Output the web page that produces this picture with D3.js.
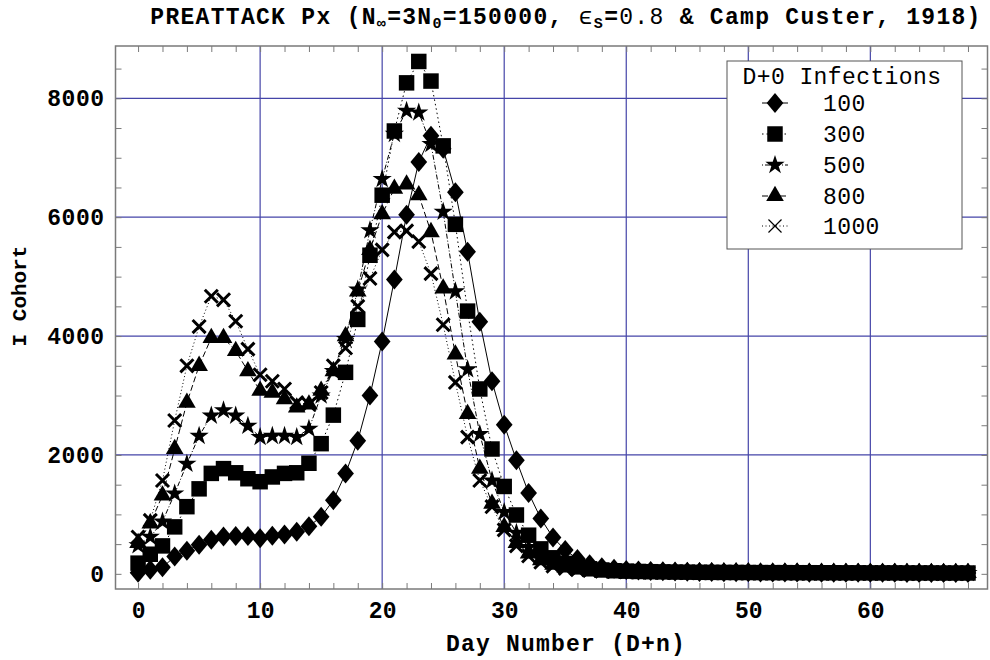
<!DOCTYPE html>
<html><head><meta charset="utf-8">
<script src="https://cdn.jsdelivr.net/npm/d3@7"></script>
<style>body{margin:0;background:#fff}svg{display:block}</style>
</head><body><svg id="c" width="990" height="660"></svg>
<script>
// ---- data ----
const seriesNames = ["100", "300", "500", "800", "1000"];
const xTickLabels = [0, 10, 20, 30, 40, 50, 60];
const yTickLabels = [0, 2000, 4000, 6000, 8000];
const s100 = [20,70,110,290,390,490,575,630,635,635,
  600,640,660,710,800,960,1240,1690,2240,3000,
  3910,4950,6040,6930,7370,7150,6420,5420,4240,3240,
  2510,1910,1360,930,610,400,250,160,110,85,
  65,55,48,42,38,35,32,30,28,26,
  25,24,23,22,21,20,20,19,19,18,
  18,17,17,16,16,16,15,15,15];
const s300 = [180,330,470,790,1130,1430,1690,1770,1700,1600,
  1550,1630,1690,1700,1860,2190,2670,3390,4280,5360,
  6370,7450,8260,8620,8290,7200,5880,4420,3110,2100,
  1470,990,650,420,270,175,120,85,65,52,
  45,40,36,33,30,28,26,25,24,23,
  22,21,20,20,19,19,18,18,17,17,
  16,16,16,15,15,15,14,14,14];
const s500 = [480,620,880,1350,1850,2320,2660,2750,2660,2490,
  2300,2320,2320,2300,2440,3000,3410,3950,4780,5780,
  6640,7400,7790,7760,7230,6090,4750,3440,2350,1570,
  1040,690,450,300,200,135,95,72,58,50,
  44,40,36,33,30,28,26,25,24,23,
  22,21,20,20,19,19,18,18,17,17,
  16,16,16,15,15,15,14,14,14];
const s800 = [520,850,1320,2100,2880,3500,3970,3970,3750,3410,
  3080,3050,2940,2800,2850,3080,3410,4000,4750,5450,
  6050,6480,6550,6370,5750,4800,3690,2690,1770,1180,
  790,520,345,230,155,108,80,63,52,45,
  40,37,34,31,29,27,26,25,24,23,
  22,21,20,20,19,19,18,18,17,17,
  16,16,16,15,15,15,14,14,14];
const s1000 = [620,900,1570,2580,3500,4160,4670,4610,4250,3780,
  3350,3240,3110,2880,2850,3050,3500,3800,4500,4970,
  5450,5750,5770,5590,5050,4190,3220,2300,1570,1130,
  740,470,300,195,130,92,70,56,47,41,
  37,34,31,29,27,26,25,24,23,22,
  21,20,20,19,19,18,18,17,17,16,
  16,16,15,15,15,14,14,14,14];
const seriesValues = [s100, s300, s500, s800, s1000];

// ---- setup ----
const svg = d3.select("#c");
const L = 115.5, R = 987.5, T = 46, B = 589;
const x = d3.scaleLinear().domain([-1.85, 69.6]).range([L, R]);
const y = d3.scaleLinear().domain([-255, 8880]).range([B, T]);
const FONT = "'Liberation Mono', 'DejaVu Sans Mono', monospace";
const gridColor = "#4545a8";
const frameColor = "#7a7a7a";

svg.append("rect").attr("width", 990).attr("height", 660).attr("fill", "#fff");

// grid
const grid = svg.append("g");
grid.selectAll("line.vx").data(xTickLabels.filter(d => d !== 0)).join("line")
  .attr("x1", d => x(d)).attr("x2", d => x(d)).attr("y1", T).attr("y2", B)
  .attr("stroke", gridColor).attr("stroke-width", 1.2);
grid.selectAll("line.hy").data(yTickLabels.filter(d => d !== 0)).join("line")
  .attr("y1", d => y(d)).attr("y2", d => y(d)).attr("x1", L).attr("x2", R)
  .attr("stroke", gridColor).attr("stroke-width", 1.2);

// minor ticks via axes
const xMinor = d3.range(0, 69, 2);
const yMinor = d3.range(0, 8501, 500);
function styleAxis(g) {
  g.select(".domain").remove();
  g.selectAll("line").attr("stroke", frameColor).attr("stroke-width", 1);
}
svg.append("g").attr("transform", `translate(0,${B})`)
  .call(d3.axisBottom(x).tickValues(xMinor).tickSize(-6).tickFormat("")).call(styleAxis);
svg.append("g").attr("transform", `translate(0,${T})`)
  .call(d3.axisTop(x).tickValues(xMinor).tickSize(-6).tickFormat("")).call(styleAxis);
svg.append("g").attr("transform", `translate(${L},0)`)
  .call(d3.axisLeft(y).tickValues(yMinor).tickSize(-6).tickFormat("")).call(styleAxis);
svg.append("g").attr("transform", `translate(${R},0)`)
  .call(d3.axisRight(y).tickValues(yMinor).tickSize(-6).tickFormat("")).call(styleAxis);

// tick labels
const xl = svg.append("g").attr("transform", `translate(0,${B})`)
  .call(d3.axisBottom(x).tickValues(xTickLabels).tickSize(0).tickPadding(13).tickFormat(d3.format("d")));
xl.select(".domain").remove();
xl.selectAll("text").attr("font-family", FONT).attr("font-weight", "bold").attr("font-size", 23).attr("fill", "#000");
const yl = svg.append("g").attr("transform", `translate(${L},0)`)
  .call(d3.axisLeft(y).tickValues(yTickLabels).tickSize(0).tickPadding(11).tickFormat(d3.format("d")));
yl.select(".domain").remove();
yl.selectAll("text").attr("font-family", FONT).attr("font-weight", "bold").attr("font-size", 23)
  .attr("letter-spacing", 0.5).attr("fill", "#000");

// frame
svg.append("rect").attr("x", L).attr("y", T).attr("width", R - L).attr("height", B - T)
  .attr("fill", "none").attr("stroke", frameColor).attr("stroke-width", 1.5);

// symbols
const symDiamond = { draw(ctx, size) { const r = Math.sqrt(size / 2);
  ctx.moveTo(0, -r * 1.1); ctx.lineTo(r * 0.92, 0); ctx.lineTo(0, r * 1.1); ctx.lineTo(-r * 0.92, 0); ctx.closePath(); } };
const symX = { draw(ctx, size) { const r = Math.sqrt(size) / 2;
  ctx.moveTo(-r, -r); ctx.lineTo(r, r); ctx.moveTo(r, -r); ctx.lineTo(-r, r); } };
const symbolDefs = [
  { type: symDiamond, size: 165, fill: true },
  { type: d3.symbolSquare, size: 240, fill: true },
  { type: d3.symbolStar, size: 115, fill: true },
  { type: d3.symbolTriangle, size: 135, fill: true },
  { type: symX, size: 170, fill: false }
];
const dashes = [null, "1.5,3", "1,2,5,2", "6,3", "1,2.5"];

const line = d3.line().x((d, i) => x(i)).y(d => y(d));
const plot = svg.append("g");
seriesValues.forEach((vals, si) => {
  plot.append("path").datum(vals).attr("d", line).attr("fill", "none")
    .attr("stroke", "#000").attr("stroke-width", 1).attr("stroke-dasharray", dashes[si]);
});
seriesValues.forEach((vals, si) => {
  const sd = symbolDefs[si];
  const sym = d3.symbol().type(sd.type).size(sd.size);
  plot.append("g").selectAll("path").data(vals).join("path")
    .attr("transform", (d, i) => `translate(${x(i)},${y(d)})`)
    .attr("d", sym())
    .attr("fill", sd.fill ? "#000" : "none")
    .attr("stroke", "#000").attr("stroke-width", sd.fill ? 0 : 3);
});

// legend
const lg = svg.append("g");
lg.append("rect").attr("x", 727).attr("y", 61).attr("width", 235).attr("height", 188)
  .attr("fill", "#fff").attr("stroke", "#555").attr("stroke-width", 1);
lg.append("text").attr("x", 842).attr("y", 84).attr("text-anchor", "middle")
  .attr("font-family", FONT).attr("font-size", 23).attr("letter-spacing", 0.4).text("D+0 Infections");
const legY = [103, 134, 165, 196, 226];
seriesNames.forEach((nm, si) => {
  const sd = symbolDefs[si];
  lg.append("line").attr("x1", 762).attr("x2", 788).attr("y1", legY[si]).attr("y2", legY[si])
    .attr("stroke", "#000").attr("stroke-width", 1).attr("stroke-dasharray", dashes[si]);
  lg.append("path").attr("transform", `translate(775,${legY[si]})`)
    .attr("d", d3.symbol().type(sd.type).size(sd.size)())
    .attr("fill", sd.fill ? "#000" : "none").attr("stroke", "#000").attr("stroke-width", sd.fill ? 0 : 1.2);
  lg.append("text").attr("x", 823).attr("y", legY[si]).attr("dy", "0.35em")
    .attr("font-family", FONT).attr("font-size", 23).attr("letter-spacing", 0.4).text(nm);
});

// axis titles
svg.append("text").attr("x", 566).attr("y", 651).attr("text-anchor", "middle")
  .attr("font-family", FONT).attr("font-weight", "bold").attr("font-size", 23).attr("letter-spacing", 1.2)
  .text("Day Number (D+n)");
svg.append("text").attr("transform", "translate(26,296) rotate(-90)").attr("text-anchor", "middle")
  .attr("font-family", FONT).attr("font-weight", "bold").attr("font-size", 21).text("I Cohort");

// title
const t = svg.append("text").attr("x", 566).attr("y", 24).attr("text-anchor", "middle")
  .attr("font-family", FONT).attr("font-weight", "bold").attr("font-size", 23).attr("letter-spacing", 1.3);
t.append("tspan").text("PREATTACK Px (N");
t.append("tspan").attr("font-size", 15).attr("dy", 4).text("∞");
t.append("tspan").attr("dy", -4).text("=3N");
t.append("tspan").attr("font-size", 15).attr("dy", 4).text("0");
t.append("tspan").attr("dy", -4).text("=150000, ");
t.append("tspan").attr("font-weight", "normal").text("ϵ");
t.append("tspan").attr("font-size", 15).attr("dy", 4).text("S");
t.append("tspan").attr("dy", -4).text("=");
t.append("tspan").attr("font-weight", "normal").text("0.8");
t.append("tspan").text(" & Camp Custer, 1918)");
</script></body></html>
